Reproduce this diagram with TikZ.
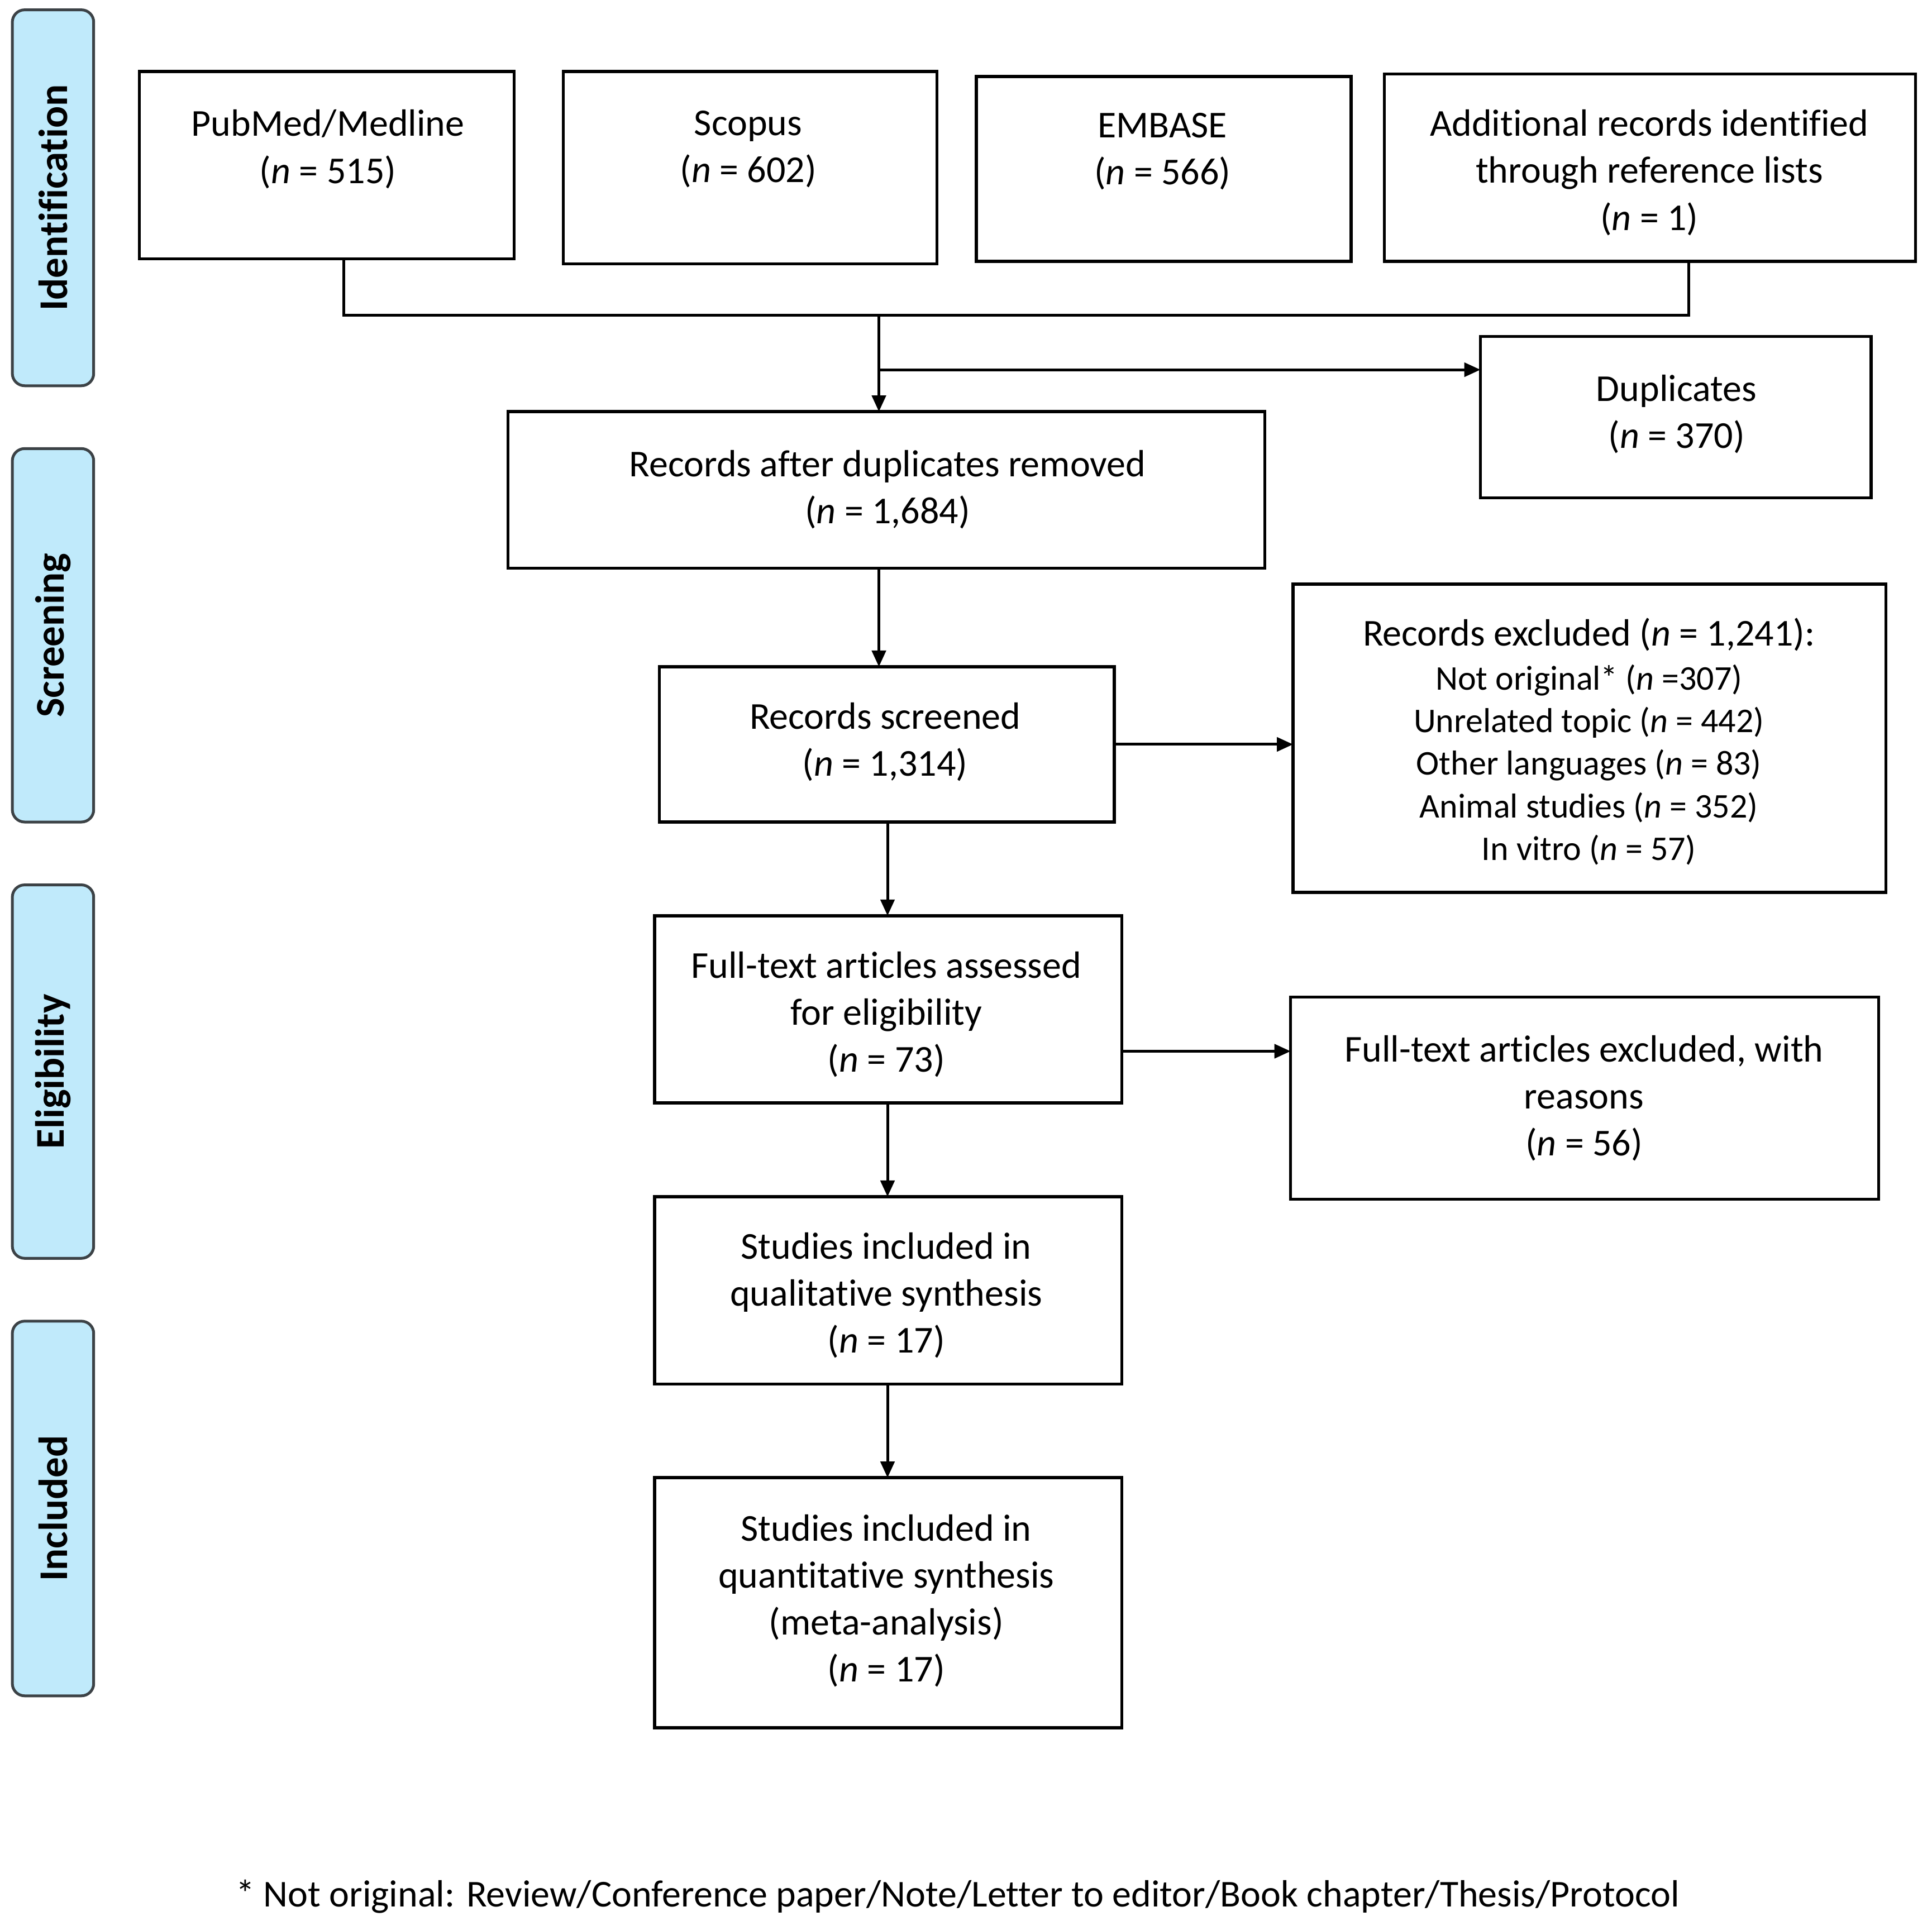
\documentclass[tikz,border=0pt]{standalone}
\usepackage{fontspec}
\setmainfont{Carlito}[Ligatures=CommonOff]
\usetikzlibrary{arrows.meta}
\definecolor{sidefill}{RGB}{192,234,251}
\definecolor{sideedge}{RGB}{60,66,70}
\def\pxu{0.2207pt}
\newcommand{\nn}{\textit{n}}
\begin{document}
\begin{tikzpicture}[x=0.2207pt, y=-0.2207pt,
 box/.style={draw, line width=0.55pt, inner sep=0pt, outer sep=0pt},
 txt/.style={font=\fontsize{6.8}{8.41}\selectfont, align=center, inner sep=0pt, yshift=-0.45pt},
 small/.style={font=\fontsize{6.2}{7.63}\selectfont, align=center, inner sep=0pt, yshift=-0.45pt},
 side/.style={draw=sideedge, fill=sidefill, line width=0.5pt, rounded corners=2.2pt, rotate=90, inner sep=0pt, font=\fontsize{7.3}{8.8}\selectfont\bfseries},
 conn/.style={line width=0.5pt},
 arr/.style={conn, -{Triangle[length=2.9pt,width=2.5pt]}}
]
\useasboundingbox (0,0) rectangle (1567.3,1558.6);

% side bars
\node[side, minimum width=305*\pxu, minimum height=66*\pxu] (sid) at (43,160.5) {Identification};
\node[side, minimum width=303*\pxu, minimum height=66*\pxu] (sscr) at (43,515.5) {Screening};
\node[side, minimum width=303*\pxu, minimum height=66*\pxu] (selig) at (43,869.5) {Eligibility};
\node[side, minimum width=304*\pxu, minimum height=66*\pxu] (sinc) at (43,1224) {Included};

% boxes
\node[box, minimum width=304*\pxu, minimum height=152*\pxu] (pub) at (265,134) {};
\node[box, minimum width=303*\pxu, minimum height=156*\pxu] (sco) at (608.5,136) {};
\node[box, minimum width=304*\pxu, minimum height=150*\pxu] (emb) at (944,137) {};
\node[box, minimum width=431*\pxu, minimum height=152*\pxu] (add) at (1338.5,136) {};
\node[box, minimum width=317*\pxu, minimum height=131*\pxu] (dup) at (1359.5,338.5) {};
\node[box, minimum width=614*\pxu, minimum height=127*\pxu] (rad) at (719,397.5) {};
\node[box, minimum width=369*\pxu, minimum height=126*\pxu] (scr) at (719.5,604) {};
\node[box, minimum width=481*\pxu, minimum height=250*\pxu] (exc) at (1289.5,599) {};
\node[box, minimum width=379*\pxu, minimum height=152*\pxu] (fta) at (720.5,819) {};
\node[box, minimum width=477*\pxu, minimum height=164*\pxu] (fte) at (1285.5,891) {};
\node[box, minimum width=379*\pxu, minimum height=152*\pxu] (qual) at (720.5,1047) {};
\node[box, minimum width=379*\pxu, minimum height=203*\pxu] (quan) at (720.5,1300.5) {};

% texts
\node[txt] (pubt) at (266,119) {PubMed/Medline\\(\nn{} = 515)};
\node[txt] (scot) at (607,119) {Scopus\\(\nn{} = 602)};
\node[txt] (embt) at (943,121) {EMBASE\\(\nn{} = 566)};
\node[txt] (addt) at (1338,138) {Additional records identified\\through reference lists\\(\nn{} = 1)};
\node[txt] (dupt) at (1360,334) {Duplicates\\(\nn{} = 370)};
\node[txt] (radt) at (720,395) {Records after duplicates removed\\(\nn{} = 1,684)};
\node[txt] (scrt) at (718,600) {Records screened\\(\nn{} = 1,314)};
\node[txt] (exct) at (1289,513) {Records excluded (\nn{} = 1,241):};
\node[small] (excl) at (1289,618.5) {Not original* (\nn{} =307)\\Unrelated topic (\nn{} = 442)\\Other languages (\nn{} = 83)\\Animal studies (\nn{} = 352)\\In vitro (\nn{} = 57)};
\node[txt] (ftat) at (719,821) {Full-text articles assessed\\for eligibility\\(\nn{} = 73)};
\node[txt] (ftet) at (1285,889) {Full-text articles excluded, with\\reasons\\(\nn{} = 56)};
\node[txt] (qualt) at (719,1049) {Studies included in\\qualitative synthesis\\(\nn{} = 17)};
\node[txt] (quant) at (719,1297) {Studies included in\\quantitative synthesis\\(meta-analysis)\\(\nn{} = 17)};
\node[txt] (foot) at (777,1537) {* Not original: Review/Conference paper/Note/Letter to editor/Book chapter/Thesis/Protocol};

% connectors
\coordinate (jl) at (279,256);
\coordinate (jr) at (1370,256);
\coordinate (jm) at (713,256);
\coordinate (jb) at (713,300);
\draw[conn] (pub.south -| jl) -- (jl) -- (jr) -- (add.south -| jr);
\draw[arr] (jm) -- (jm |- rad.north);
\draw[arr] (jb) -- (jb -| dup.west);
\draw[arr] (rad.south -| jm) -- (scr.north -| jm);
\draw[arr] (scr.east) -- (scr.east -| exc.west);
\coordinate (jc) at (720,0);
\draw[arr] (scr.south -| jc) -- (fta.north -| jc);
\draw[arr] ([yshift=-7.5pt]fta.east) -- ([yshift=-7.5pt]fta.east -| fte.west);
\draw[arr] (fta.south -| jc) -- (qual.north -| jc);
\draw[arr] (qual.south -| jc) -- (quan.north -| jc);
\end{tikzpicture}
\end{document}
